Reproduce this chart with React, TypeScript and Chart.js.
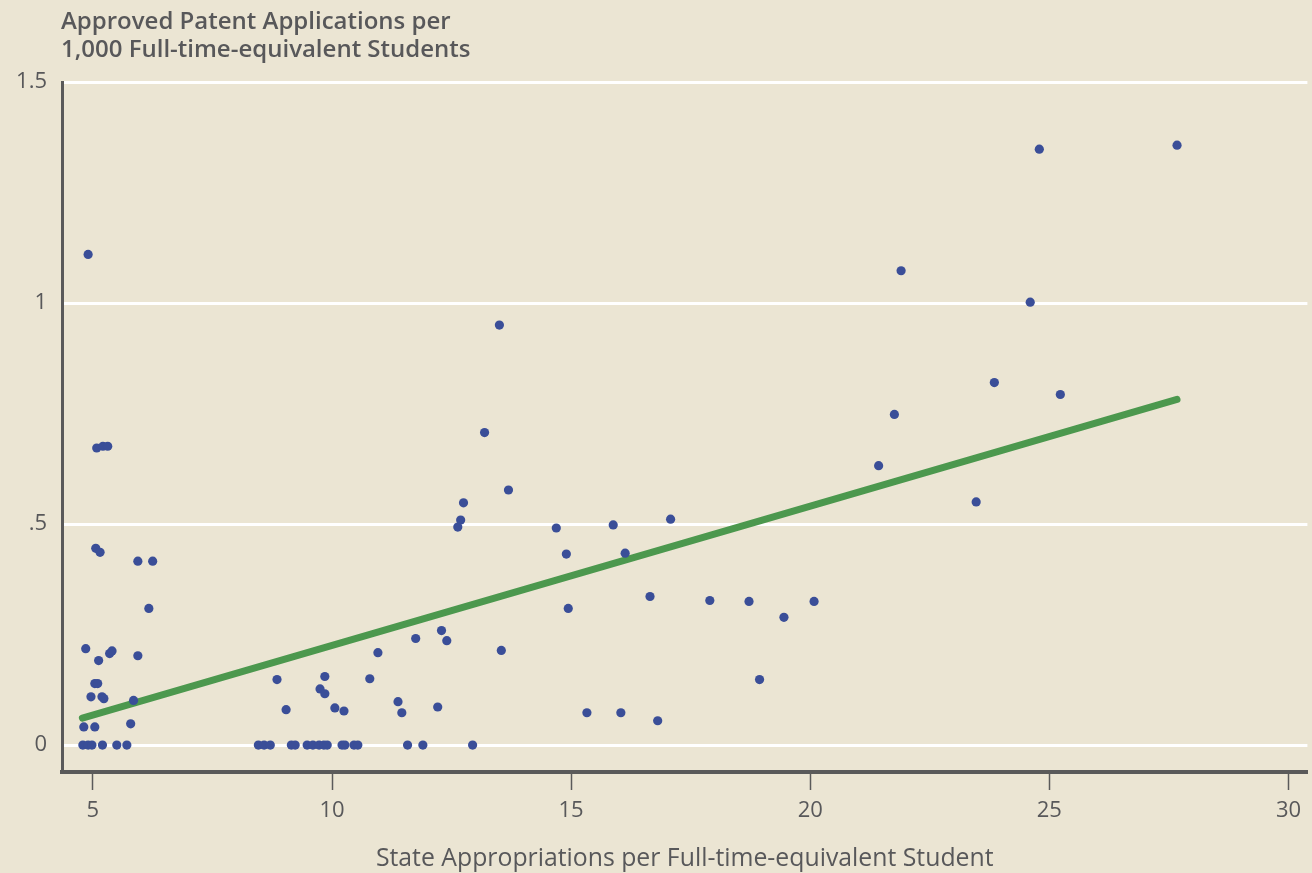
import React, { useEffect, useRef } from "react";
import { Chart, registerables } from "chart.js";

Chart.register(...registerables);

// State appropriations per FTE student (thousands of dollars)
const appropriations = [
  4.9, 5.08, 5.21, 5.31, 5.06, 5.15, 5.94, 6.25, 6.17, 4.85, 5.12, 5.35, 5.4, 5.94,
  5.04, 5.1, 4.96, 5.19, 5.23, 5.85, 4.81, 5.04, 5.79, 4.79, 4.9, 4.98, 5.2, 5.5, 5.71,
  8.85, 9.04, 9.75, 9.85, 9.85, 10.06, 10.25, 10.79, 10.96, 11.38, 11.46, 11.75, 12.21,
  12.29, 12.4, 13.54, 8.46, 8.58, 8.71, 9.15, 9.23, 9.48, 9.6, 9.73, 9.83, 9.9, 10.21,
  10.27, 10.46, 10.54, 11.58, 11.9, 12.94,
  13.5, 13.19, 13.69, 12.75, 12.69, 12.63, 14.69, 14.9, 15.88, 16.13, 17.08, 14.94,
  16.65, 17.9, 15.33, 16.04, 16.81,
  18.72, 18.94, 19.45, 20.08, 21.43, 21.76, 21.9, 23.47, 23.85, 24.6, 24.79, 25.23, 27.67,
];

// Approved patent applications per 1,000 FTE students
const patents = [
  1.11, 0.672, 0.676, 0.676, 0.445, 0.436, 0.416, 0.416, 0.309, 0.218, 0.191, 0.207, 0.213, 0.202,
  0.139, 0.139, 0.109, 0.109, 0.105, 0.101, 0.041, 0.041, 0.048, 0, 0, 0, 0, 0, 0,
  0.148, 0.08, 0.127, 0.116, 0.155, 0.084, 0.077, 0.15, 0.209, 0.098, 0.073, 0.241, 0.086,
  0.259, 0.236, 0.214, 0, 0, 0, 0, 0, 0, 0, 0, 0, 0, 0,
  0, 0, 0, 0, 0, 0,
  0.95, 0.707, 0.577, 0.548, 0.509, 0.493, 0.491, 0.432, 0.498, 0.434, 0.511, 0.309,
  0.336, 0.327, 0.073, 0.073, 0.055,
  0.325, 0.148, 0.289, 0.325, 0.632, 0.748, 1.073, 0.55, 0.82, 1.002, 1.348, 0.793, 1.357,
];

// Fitted trend line end points
const trendX = [4.78, 27.67];
const trendY = [0.061, 0.782];

const xTicks = [5, 10, 15, 20, 25, 30];
const yTicks = [0, 0.5, 1, 1.5];
const yTickLabels = ["0", ".5", "1", "1.5"];

const yTitleLines = ["Approved Patent Applications per", "1,000 Full-time-equivalent Students"];
const xTitle = "State Appropriations per Full-time-equivalent Student";

const BG = "rgb(235,229,211)";
const TEXT = "#58585a";
const AXIS = "#5a5a5a";
const FONT = '"Open Sans", "DejaVu Sans", sans-serif';

const titlesPlugin = {
  id: "titles",
  afterDraw(chart: any) {
    const ctx = chart.ctx;
    const area = chart.chartArea;
    ctx.save();
    ctx.fillStyle = TEXT;
    ctx.font = `600 24px ${FONT}`;
    ctx.textAlign = "left";
    ctx.textBaseline = "alphabetic";
    ctx.fillText(yTitleLines[0], 61, 29);
    ctx.fillText(yTitleLines[1], 61, 57);
    ctx.font = `400 24.8px ${FONT}`;
    ctx.textAlign = "center";
    ctx.textBaseline = "alphabetic";
    ctx.fillText(xTitle, (area.left + area.right) / 2, 866);
    ctx.restore();
  },
};

const backgroundPlugin = {
  id: "bg",
  beforeDraw(chart: any) {
    const ctx = chart.ctx;
    ctx.save();
    ctx.fillStyle = BG;
    ctx.fillRect(0, 0, chart.width, chart.height);
    ctx.restore();
  },
};

export default function App() {
  const canvasRef = useRef<HTMLCanvasElement | null>(null);

  useEffect(() => {
    document.body.style.margin = "0";
    document.body.style.background = BG;
    let chart: Chart | null = null;
    let cancelled = false;

    const build = () => {
      if (cancelled || !canvasRef.current) return;
      const points = appropriations.map((x, i) => ({ x, y: patents[i] }));
      const trend = trendX.map((x, i) => ({ x, y: trendY[i] }));
      chart = new Chart(canvasRef.current, {
        type: "scatter",
        data: {
          datasets: [
            {
              type: "scatter",
              data: points,
              backgroundColor: "rgb(58,78,152)",
              borderColor: "rgb(58,78,152)",
              borderWidth: 0,
              pointRadius: 4.6,
            },
            {
              type: "line",
              data: trend,
              borderColor: "rgb(76,152,78)",
              borderWidth: 7,
              borderCapStyle: "round",
              pointRadius: 0,
              fill: false,
            },
          ],
        },
        options: {
          responsive: false,
          animation: false,
          events: [],
          layout: { padding: { top: 82, left: 0, right: 0, bottom: 0 } },
          plugins: {
            legend: { display: false },
            tooltip: { enabled: false },
            title: { display: false },
          },
          scales: {
            x: {
              type: "linear",
              min: 4.354,
              max: 30.396,
              afterBuildTicks: (scale: any) => {
                scale.ticks = xTicks.map((v) => ({ value: v }));
              },
              afterFit: (scale: any) => {
                scale.height = 101;
              },
              grid: {
                drawOnChartArea: false,
                drawTicks: true,
                tickLength: 18,
                tickColor: AXIS,
                tickWidth: 1.5,
                color: AXIS,
              },
              border: { display: true, color: AXIS, width: 4 },
              ticks: {
                color: TEXT,
                padding: 8,
                maxRotation: 0,
                autoSkip: false,
                font: { family: FONT, size: 22 },
                callback: (v: any) => String(v),
              },
            },
            y: {
              type: "linear",
              min: -0.061,
              max: 1.5,
              afterBuildTicks: (scale: any) => {
                scale.ticks = yTicks.map((v) => ({ value: v }));
              },
              afterFit: (scale: any) => {
                scale.width = 62;
              },
              grid: {
                color: "#ffffff",
                lineWidth: 3,
                drawTicks: false,
                tickLength: 0,
              },
              border: { display: true, color: AXIS, width: 3 },
              ticks: {
                color: TEXT,
                padding: 15,
                autoSkip: false,
                font: { family: FONT, size: 22 },
                callback: (v: any) => {
                  const i = yTicks.indexOf(Number(v));
                  return i >= 0 ? yTickLabels[i] : "";
                },
              },
            },
          },
        },
        plugins: [backgroundPlugin, titlesPlugin],
      } as any);
    };

    const fonts = (document as any).fonts;
    if (fonts && fonts.load) {
      Promise.all([
        fonts.load(`600 24px "Open Sans"`),
        fonts.load(`400 24px "Open Sans"`),
      ])
        .catch(() => undefined)
        .then(build);
    } else {
      build();
    }

    return () => {
      cancelled = true;
      if (chart) chart.destroy();
    };
  }, []);

  return (
    <div style={{ width: 1312, height: 873, background: BG }}>
      <canvas ref={canvasRef} width={1312} height={873} style={{ display: "block" }} />
    </div>
  );
}
